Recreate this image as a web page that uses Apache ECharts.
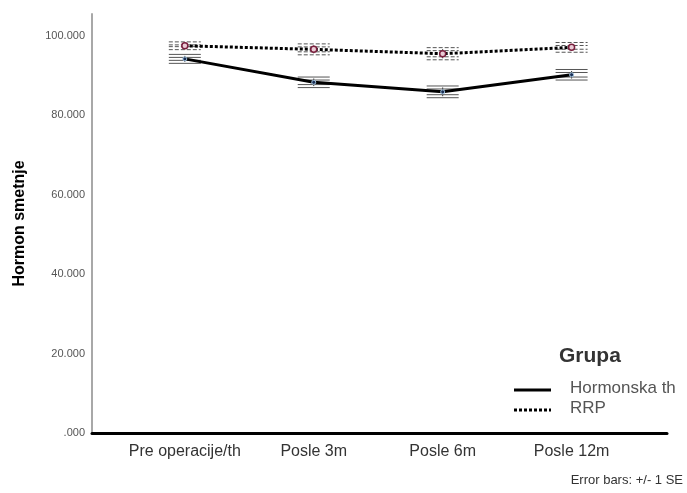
<!DOCTYPE html>
<html>
<head>
<meta charset="utf-8">
<title>Hormon smetnje</title>
<script src="https://cdn.jsdelivr.net/npm/echarts@6/dist/echarts.min.js"></script>
<style>
  html, body { margin: 0; padding: 0; background: #fff; }
  #chart { width: 687px; height: 493px; }
</style>
</head>
<body>
<div id="chart"></div>
<script>
// Time points along the x axis
const categories = ['Pre operacije/th', 'Posle 3m', 'Posle 6m', 'Posle 12m'];

// Group means
const hormonskaMean = [94.2, 88.3, 85.9, 90.2];
const rrpMean = [97.5, 96.6, 95.5, 97.1];

// Standard errors (error bars show +/- 1 SE)
const hormonskaSE = [0.75, 0.95, 1.1, 0.95];
const rrpSE = [0.6, 1.0, 1.15, 0.85];

// Y axis tick values
const yTicks = [0, 20, 40, 60, 80, 100];

const FONT = '"Liberation Sans", Arial, sans-serif';

function pts(means) {
  return means.map((v, i) => [i, v]);
}
function errData(means, se) {
  return means.map((v, i) => [i, v - se[i], v + se[i]]);
}

// Error bar: vertical stem plus a doubled cap at both ends
function errorBarRenderer(dashed) {
  return function (params, api) {
    const x = api.value(0);
    const lo = api.coord([x, api.value(1)]);
    const hi = api.coord([x, api.value(2)]);
    const half = 16;
    const capStyle = {
      stroke: '#555',
      lineWidth: 1,
      lineDash: dashed ? [4, 2] : null
    };
    const children = [{
      type: 'line',
      shape: { x1: lo[0], y1: lo[1], x2: hi[0], y2: hi[1] },
      style: { stroke: '#333', lineWidth: 1 }
    }];
    [lo, hi].forEach(function (p) {
      [-1.5, 1.5].forEach(function (d) {
        children.push({
          type: 'line',
          shape: { x1: p[0] - half, y1: p[1] + d, x2: p[0] + half, y2: p[1] + d },
          style: capStyle
        });
      });
    });
    return { type: 'group', children: children };
  };
}

const chart = echarts.init(document.getElementById('chart'), null, { renderer: 'canvas' });

chart.setOption({
  backgroundColor: '#ffffff',
  animation: false,
  grid: { left: 92, right: 20, top: 14, bottom: 60 },
  xAxis: {
    type: 'value',
    min: -0.72,
    max: 3.74,
    splitLine: { show: false },
    axisLine: { show: true, onZero: false, lineStyle: { color: '#000', width: 3 } },
    axisTick: { show: false },
    axisLabel: {
      customValues: [0, 1, 2, 3],
      formatter: function (v) { return categories[Math.round(v)]; },
      color: '#333',
      fontFamily: FONT,
      fontSize: 16,
      margin: 11
    }
  },
  yAxis: {
    type: 'value',
    min: 0,
    max: 105.5,
    name: 'Hormon smetnje',
    nameLocation: 'middle',
    nameGap: 64,
    nameTextStyle: { color: '#000', fontFamily: FONT, fontSize: 16, fontWeight: 'bold' },
    splitLine: { show: false },
    axisLine: { show: true, onZero: false, lineStyle: { color: '#a8a8a8', width: 2 } },
    axisTick: { show: false },
    axisLabel: {
      customValues: yTicks,
      formatter: function (v) { return v === 0 ? '.000' : v.toFixed(3); },
      color: '#555',
      fontFamily: FONT,
      fontSize: 11,
      margin: 7
    }
  },
  series: [
    {
      name: 'Hormonska th',
      type: 'line',
      data: pts(hormonskaMean),
      lineStyle: { color: '#000', width: 3 },
      symbol: 'circle',
      symbolSize: 4,
      itemStyle: { color: '#1c2f55', borderColor: '#9fc3e0', borderWidth: 1 },
      z: 3
    },
    {
      name: 'RRP',
      type: 'line',
      data: pts(rrpMean),
      lineStyle: { color: '#000', width: 3, type: [3, 2] },
      symbol: 'circle',
      symbolSize: 6,
      itemStyle: { color: '#e9ccd6', borderColor: '#7a1f3d', borderWidth: 1.5 },
      z: 3
    },
    {
      type: 'custom',
      renderItem: errorBarRenderer(false),
      data: errData(hormonskaMean, hormonskaSE),
      encode: { x: 0, y: [1, 2] },
      z: 2
    },
    {
      type: 'custom',
      renderItem: errorBarRenderer(true),
      data: errData(rrpMean, rrpSE),
      encode: { x: 0, y: [1, 2] },
      z: 2
    }
  ],
  graphic: [
    { type: 'text', left: 559, top: 346,
      style: { text: 'Grupa', fill: '#333', font: 'bold 21px ' + FONT } },
    { type: 'line', shape: { x1: 514, y1: 390, x2: 551, y2: 390 },
      style: { stroke: '#000', lineWidth: 3 } },
    { type: 'text', left: 570, top: 380,
      style: { text: 'Hormonska th', fill: '#555', font: '17px ' + FONT } },
    { type: 'line', shape: { x1: 514, y1: 410, x2: 551, y2: 410 },
      style: { stroke: '#000', lineWidth: 3, lineDash: [3, 2] } },
    { type: 'text', left: 570, top: 400,
      style: { text: 'RRP', fill: '#555', font: '17px ' + FONT } },
    { type: 'text', right: 4, top: 474,
      style: { text: 'Error bars: +/- 1 SE', fill: '#333', font: '13px ' + FONT } }
  ]
});
</script>
</body>
</html>
